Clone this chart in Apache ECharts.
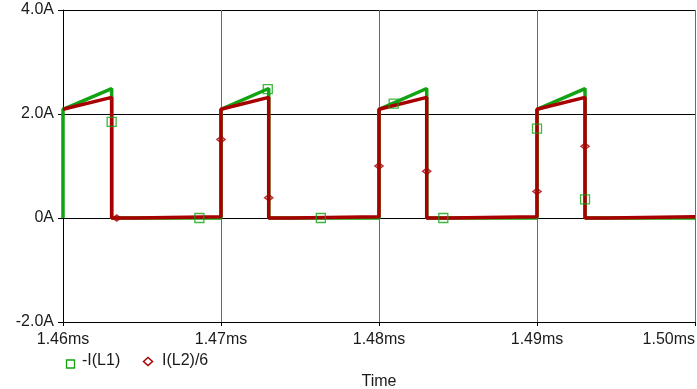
<!DOCTYPE html>
<html>
<head>
<meta charset="utf-8">
<script src="https://cdn.jsdelivr.net/npm/echarts@6/dist/echarts.min.js"></script>
<style>
  html, body { margin: 0; padding: 0; background: #fff; }
  #chart { width: 697px; height: 389px; }
</style>
</head>
<body>
<div id="chart"></div>
<script>
// -I(L1) trace (green)
var l1Time  = [1.46, 1.46, 1.46308, 1.46308, 1.47, 1.47, 1.47302, 1.47302, 1.48, 1.48, 1.48302, 1.48302, 1.49, 1.49, 1.49304, 1.49304, 1.50];
var l1Value = [0, 2.09, 2.49, 0, 0, 2.09, 2.49, 0, 0, 2.09, 2.49, 0, 0, 2.09, 2.49, 0, 0];
// I(L2)/6 trace (red)
var l2Time  = [1.46, 1.46308, 1.46308, 1.46455, 1.4646, 1.47, 1.47, 1.47302, 1.47302, 1.4745, 1.4746, 1.48, 1.48, 1.48302, 1.48302, 1.4845, 1.4846, 1.49, 1.49, 1.49304, 1.49304, 1.4945, 1.4946, 1.50];
var l2Value = [2.09, 2.32, 0, 0, 0.025, 0.025, 2.09, 2.32, 0, 0, 0.025, 0.025, 2.09, 2.32, 0, 0, 0.025, 0.025, 2.09, 2.32, 0, 0, 0.025, 0.025];
// marker points
var l1MarkTime  = [1.46308, 1.46863, 1.47296, 1.47632, 1.48093, 1.48407, 1.49, 1.49304];
var l1MarkValue = [1.85, 0, 2.48, 0, 2.2, 0, 1.72, 0.36];
var l2MarkTime  = [1.4634, 1.47, 1.47302, 1.48, 1.48302, 1.49, 1.49304];
var l2MarkValue = [0, 1.51, 0.39, 1.0, 0.9, 0.51, 1.38];

var xTicks = [1.46, 1.47, 1.48, 1.49, 1.50];
var yTicks = [-2, 0, 2, 4];

var green = '#12a312';
var red = '#a80000';
var font = 'Liberation Sans, Arial, sans-serif';

function pairs(t, v) {
    var out = [];
    for (var i = 0; i < t.length; i++) out.push([t[i], v[i]]);
    return out;
}

var chart = echarts.init(document.getElementById('chart'));
var option = {
    animation: false,
    backgroundColor: '#fff',
    grid: { left: 63, right: 2, top: 10, bottom: 67, containLabel: false, outerBoundsMode: 'none' },
    xAxis: {
        type: 'value',
        min: xTicks[0],
        max: xTicks[xTicks.length - 1],
        interval: 0.01,
        name: 'Time',
        nameLocation: 'middle',
        nameGap: 52,
        nameTextStyle: { color: '#1a1a1a', fontSize: 16, fontFamily: font },
        axisLine: { onZero: false, lineStyle: { color: '#000', width: 1 } },
        axisTick: { show: true, length: 4, lineStyle: { color: '#000' } },
        axisLabel: {
            color: '#1a1a1a', fontSize: 16, fontFamily: font, margin: 10,
            alignMaxLabel: 'right',
            formatter: function (v) { return v.toFixed(2) + 'ms'; }
        },
        splitLine: { show: true, lineStyle: { color: '#6a6a6a', width: 1 } }
    },
    yAxis: {
        type: 'value',
        min: yTicks[0],
        max: yTicks[yTicks.length - 1],
        interval: 2,
        axisLine: { show: true, lineStyle: { color: '#000', width: 1 } },
        axisTick: { show: true, length: 5, lineStyle: { color: '#000' } },
        axisLabel: {
            color: '#1a1a1a', fontSize: 16, fontFamily: font, margin: 9,
            formatter: function (v) { return v === 0 ? '0A' : v.toFixed(1) + 'A'; }
        },
        splitLine: { show: true, lineStyle: { color: '#000', width: 1 } }
    },
    series: [
        {
            name: 'L1 trace', type: 'line', showSymbol: false, z: 2,
            lineStyle: { color: green, width: 3.5 },
            data: pairs(l1Time, l1Value)
        },
        {
            name: 'L2 trace', type: 'line', showSymbol: false, z: 3,
            lineStyle: { color: red, width: 3.5 },
            data: pairs(l2Time, l2Value)
        },
        {
            name: '-I(L1)', type: 'scatter', symbol: 'rect', symbolSize: 9, z: 5,
            itemStyle: { color: 'rgba(0,0,0,0)', borderColor: green, borderWidth: 1.3 },
            data: pairs(l1MarkTime, l1MarkValue)
        },
        {
            name: 'I(L2)/6', type: 'scatter', symbol: 'diamond', symbolSize: [8, 6], z: 5,
            itemStyle: { color: 'rgba(0,0,0,0)', borderColor: red, borderWidth: 1.6 },
            data: pairs(l2MarkTime, l2MarkValue)
        }
    ],
    graphic: [
        { type: 'rect', left: 64, top: 357.5, shape: { width: 8, height: 8 },
          style: { fill: 'none', stroke: green, lineWidth: 1.3 } },
        { type: 'text', left: 82, top: 353, style: { text: '-I(L1)', fill: '#1a1a1a', font: '16px ' + font } },
        { type: 'polygon', shape: { points: [[143.5, 361.5], [148, 357.5], [152.5, 361.5], [148, 365.5]] },
          style: { fill: 'none', stroke: red, lineWidth: 1.5 } },
        { type: 'text', left: 162, top: 353, style: { text: 'I(L2)/6', fill: '#1a1a1a', font: '16px ' + font } }
    ]
};
chart.setOption(option);
window.onresize = function () { chart.resize(); };
</script>
</body>
</html>
